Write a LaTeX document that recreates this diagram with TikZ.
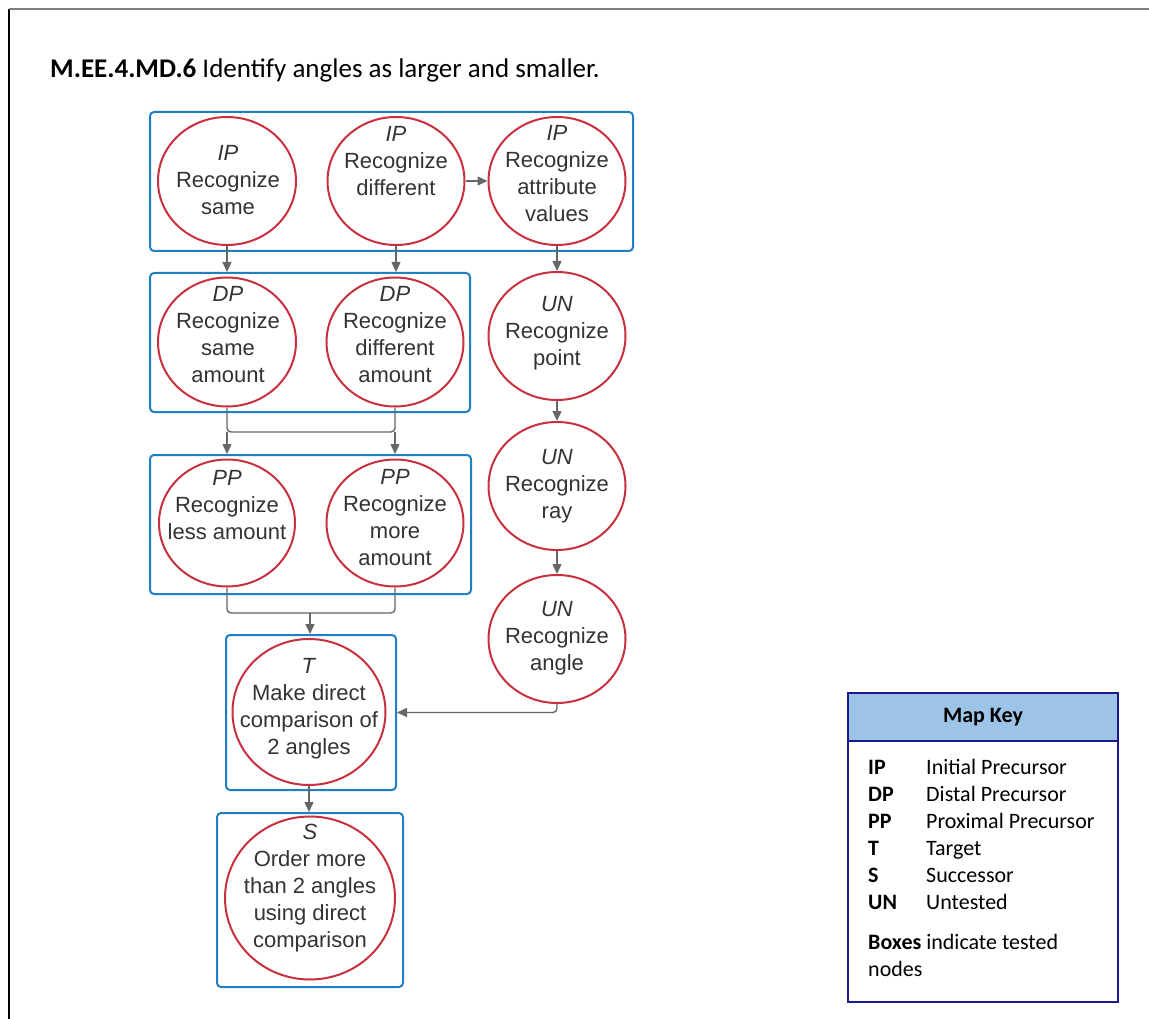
\documentclass[tikz,border=0pt]{standalone}
\usepackage{fontspec}
\setmainfont{Liberation Sans}
\newfontfamily\calib{Carlito}
\usetikzlibrary{shapes.geometric,arrows.meta}
\definecolor{cred}{HTML}{C9303E}
\definecolor{cblue}{HTML}{1E7FC3}
\definecolor{cgray}{HTML}{666666}
\definecolor{ctext}{HTML}{333333}
\definecolor{knavy}{HTML}{1A1A8C}
\definecolor{kfill}{HTML}{9DC3E6}
\definecolor{fgray}{HTML}{7F7F7F}
\begin{document}
\begin{tikzpicture}[x=1pt,y=-1pt,
 bubble/.style={ellipse,draw=cred,line width=2pt,inner sep=0pt},
 tbox/.style={draw=cblue,line width=2pt,rounded corners=4pt,inner sep=0pt},
 lbl/.style={align=center,text=ctext,font=\fontsize{22}{27}\selectfont,inner sep=0pt},
 conn/.style={draw=cgray,line width=1.4pt},
 arr/.style={conn,-{Triangle[length=10pt,width=9pt]}},
 keyt/.style={font=\calib\fontsize{22}{27}\selectfont,anchor=west,inner sep=0pt,text height=15pt,text depth=4pt}]
\useasboundingbox (0,0) rectangle (1149,1019);

% frame
\coordinate (fa) at (9,1019);
\coordinate (fb) at (9,9);
\coordinate (fc) at (1149,9);
\draw[black,line width=1.5pt] (fa) -- (fb);
\draw[fgray,line width=1.5pt] (fb) -- (fc);

% title
\node[anchor=west,font=\calib\fontsize{27}{32}\selectfont,inner sep=0pt] (title) at (50,70)
  {\textbf{M.EE.4.MD.6} Identify angles as larger and smaller.};

% boxes
\node[tbox,minimum width=483pt,minimum height=139pt] (box1) at (391.5,181.5) {};
\node[tbox,minimum width=320pt,minimum height=139pt] (box2) at (310,342.5) {};
\node[tbox,minimum width=321pt,minimum height=139pt] (box3) at (310.5,524.5) {};
\node[tbox,minimum width=170pt,minimum height=155pt] (boxT) at (311,712.5) {};
\node[tbox,minimum width=186pt,minimum height=174pt] (boxS) at (310,900) {};

% bubbles
\node[bubble,minimum width=138pt,minimum height=128pt] (ipsame) at (227,181) {};
\node[bubble,minimum width=137pt,minimum height=128pt] (ipdiff) at (396,181) {};
\node[bubble,minimum width=137pt,minimum height=128pt] (ipattr) at (557,181) {};
\node[bubble,minimum width=138pt,minimum height=129pt] (dpsame) at (227,342) {};
\node[bubble,minimum width=137pt,minimum height=129pt] (dpdiff) at (395,342) {};
\node[bubble,minimum width=137pt,minimum height=128pt] (unpoint) at (557,336) {};
\node[bubble,minimum width=136pt,minimum height=127pt] (ppless) at (227,523) {};
\node[bubble,minimum width=137pt,minimum height=127pt] (ppmore) at (395,523) {};
\node[bubble,minimum width=137pt,minimum height=128pt] (unray) at (557,486) {};
\node[bubble,minimum width=137pt,minimum height=128pt] (unangle) at (557,639) {};
\node[bubble,minimum width=153pt,minimum height=146pt] (tcirc) at (309,712) {};
\node[bubble,minimum width=170pt,minimum height=163pt] (scirc) at (310,898) {};

% bubble texts
\node[lbl] (tipsame) at (228,180) {\textit{IP}\\Recognize\\same};
\node[lbl] (tipdiff) at (396,161) {\textit{IP}\\Recognize\\different};
\node[lbl] (tipattr) at (557,174) {\textit{IP}\\Recognize\\attribute\\values};
\node[lbl] (tdpsame) at (228,335) {\textit{DP}\\Recognize\\same\\amount};
\node[lbl] (tdpdiff) at (395,335) {\textit{DP}\\Recognize\\different\\amount};
\node[lbl] (tunpoint) at (557,333) {\textit{UN}\\Recognize\\point};
\node[lbl] (tppless) at (227,505) {\textit{PP}\\Recognize\\less amount};
\node[lbl] (tppmore) at (395,518) {\textit{PP}\\Recognize\\more\\amount};
\node[lbl] (tunray) at (557,486) {\textit{UN}\\Recognize\\ray};
\node[lbl] (tunangle) at (557,638) {\textit{UN}\\Recognize\\angle};
\node[lbl] (ttcirc) at (309,709) {\textit{T}\\Make direct\\comparison of\\2 angles};
\node[lbl] (tscirc) at (310,888) {\textit{S}\\Order more\\than 2 angles\\using direct\\comparison};

% connectors
\draw[arr] (ipsame.south) -- (ipsame.south |- box2.north);
\draw[arr] (ipdiff.south) -- (ipdiff.south |- box2.north);
\draw[arr] (ipdiff.east) -- (ipattr.west);
\draw[arr] (ipattr.south) -- (unpoint.north);
\draw[arr] (unpoint.south) -- (unray.north);
\draw[arr] (unray.south) -- (unangle.north);

\coordinate (j1) at (311,432);
\draw[conn,rounded corners=4pt] (dpsame.south) |- (j1) -| (dpdiff.south);
\draw[arr] (dpsame.south |- j1) -- (dpsame.south |- box3.north);
\draw[arr] (dpdiff.south |- j1) -- (dpdiff.south |- box3.north);

\coordinate (j2) at (310,613);
\draw[conn,rounded corners=4pt] (ppless.south) |- (j2) -| (ppmore.south);
\draw[arr] (j2) -- (j2 |- boxT.north);

\draw[arr,rounded corners=4pt] (unangle.south) |- (boxT.east);
\draw[arr] (tcirc.south) -- (tcirc.south |- boxS.north);

% map key
\node[draw=knavy,line width=2pt,minimum width=270pt,minimum height=309pt,inner sep=0pt] (key) at (983,847.5) {};
\node[draw=knavy,fill=kfill,line width=2pt,minimum width=270pt,minimum height=48pt,inner sep=0pt,
  font=\calib\bfseries\fontsize{22}{27}\selectfont] (keyhead) at (983,717) {Map Key};
\node[keyt] (k1a) at (868,768.5) {\textbf{IP}};
\node[keyt] (k1b) at (926,768.5) {Initial Precursor};
\node[keyt] (k2a) at (868,795.5) {\textbf{DP}};
\node[keyt] (k2b) at (926,795.5) {Distal Precursor};
\node[keyt] (k3a) at (868,822.5) {\textbf{PP}};
\node[keyt] (k3b) at (926,822.5) {Proximal Precursor};
\node[keyt] (k4a) at (868,849.5) {\textbf{T}};
\node[keyt] (k4b) at (926,849.5) {Target};
\node[keyt] (k5a) at (868,876.5) {\textbf{S}};
\node[keyt] (k5b) at (926,876.5) {Successor};
\node[keyt] (k6a) at (868,903.5) {\textbf{UN}};
\node[keyt] (k6b) at (926,903.5) {Untested};
\node[keyt] (k7) at (868,943.5) {\textbf{Boxes} indicate tested};
\node[keyt] (k8) at (868,970.5) {nodes};
\end{tikzpicture}
\end{document}
